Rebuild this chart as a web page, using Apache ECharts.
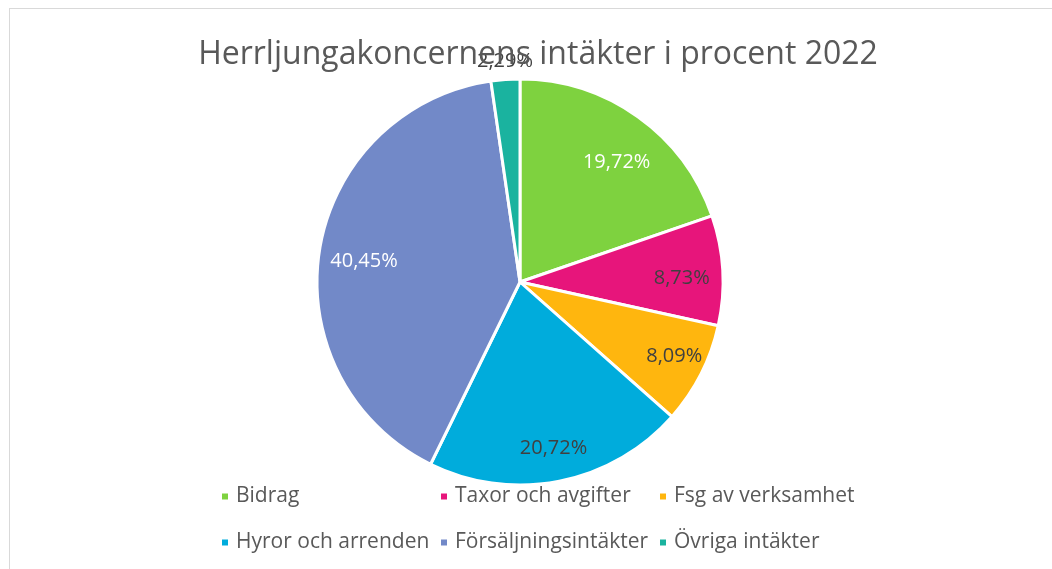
<!DOCTYPE html>
<html>
<head>
<meta charset="utf-8">
<script src="https://cdn.jsdelivr.net/npm/echarts@6/dist/echarts.min.js"></script>
<style>
  html, body { margin: 0; padding: 0; background: #fff; }
  #frame { position: absolute; left: 9px; top: 8px; width: 1100px; height: 600px; border: 1px solid #d9d9d9; }
  #main { position: absolute; left: 0; top: 0; width: 1052px; height: 569px; }
</style>
</head>
<body>
<div id="frame"></div>
<div id="main"></div>
<script>
var categories = ['Bidrag', 'Taxor och avgifter', 'Fsg av verksamhet', 'Hyror och arrenden', 'Försäljningsintäkter', 'Övriga intäkter'];
var values = [19.72, 8.73, 8.09, 20.72, 40.45, 2.29];
var colors = ['#7ED23F', '#E7157B', '#FFB60E', '#00ACDC', '#7289C8', '#1AB39F'];
var labelColors = ['#ffffff', '#404040', '#404040', '#404040', '#ffffff', '#404040'];
// små justeringar av etiketterna (Excel "bästa passning")
var labelNudge = [[2, 13], [-1, 6], [9, 0], [2, 6], [5, 5], [1, 2]];

var myChart = echarts.init(document.getElementById('main'));
var fontName = 'Open Sans';
var cx = 520, cy = 282, r = 203;

function fmt(v) {
    return v.toFixed(2).replace('.', ',') + '%';
}

// synlig paj
var pieData = categories.map(function (name, i) {
    return { name: name, value: values[i], itemStyle: { color: colors[i] } };
});

// osynliga serier bara för etiketterna
var labelData = categories.map(function (name, i) {
    return { name: name, value: values[i], label: { show: i < 5, color: labelColors[i] } };
});
var outerLabelData = categories.map(function (name, i) {
    return { name: name, value: values[i], label: { show: i == 5, color: labelColors[i] } };
});

// legend: en per post, i tre kolumner
var legendPos = [[215, 481], [434, 481], [653, 481], [215, 527], [434, 527], [653, 527]];
var legends = categories.map(function (name, i) {
    return {
        data: [name],
        left: legendPos[i][0],
        top: legendPos[i][1],
        icon: 'rect',
        itemWidth: 8,
        itemHeight: 8,
        itemGap: 0,
        selectedMode: false,
        textStyle: { fontFamily: fontName, fontSize: 21, color: '#595959', padding: [0, 0, 0, 2] }
    };
});

function labelSeries(name, radius, data) {
    return {
        name: name,
        type: 'pie',
        center: [cx, cy],
        radius: [0, radius],
        startAngle: 90,
        silent: true,
        legendHoverLink: false,
        itemStyle: { color: 'rgba(0,0,0,0)' },
        label: {
            position: 'inside',
            fontFamily: fontName,
            fontSize: 20,
            formatter: function (p) { return fmt(p.value); }
        },
        labelLine: { show: false },
        labelLayout: function (p) {
            return { dx: labelNudge[p.dataIndex][0], dy: labelNudge[p.dataIndex][1] };
        },
        emphasis: { disabled: true },
        data: data
    };
}

option = {
    animation: false,
    title: {
        text: 'Herrljungakoncernens intäkter i procent 2022',
        left: 533,
        top: 34,
        textAlign: 'center',
        textStyle: { fontFamily: fontName, fontSize: 32, fontWeight: 'normal', color: '#595959' }
    },
    legend: legends,
    series: [
        {
            name: 'pie',
            type: 'pie',
            center: [cx, cy],
            radius: [0, r],
            startAngle: 90,
            clockwise: true,
            label: { show: false },
            labelLine: { show: false },
            itemStyle: { borderColor: '#ffffff', borderWidth: 3 },
            emphasis: { disabled: true },
            data: pieData
        },
        labelSeries('labels', 2 * 160, labelData),
        labelSeries('labels2', 2 * 220, outerLabelData)
    ]
};

if (option && typeof option === "object") {
    myChart.setOption(option, true);
}
</script>
</body>
</html>
